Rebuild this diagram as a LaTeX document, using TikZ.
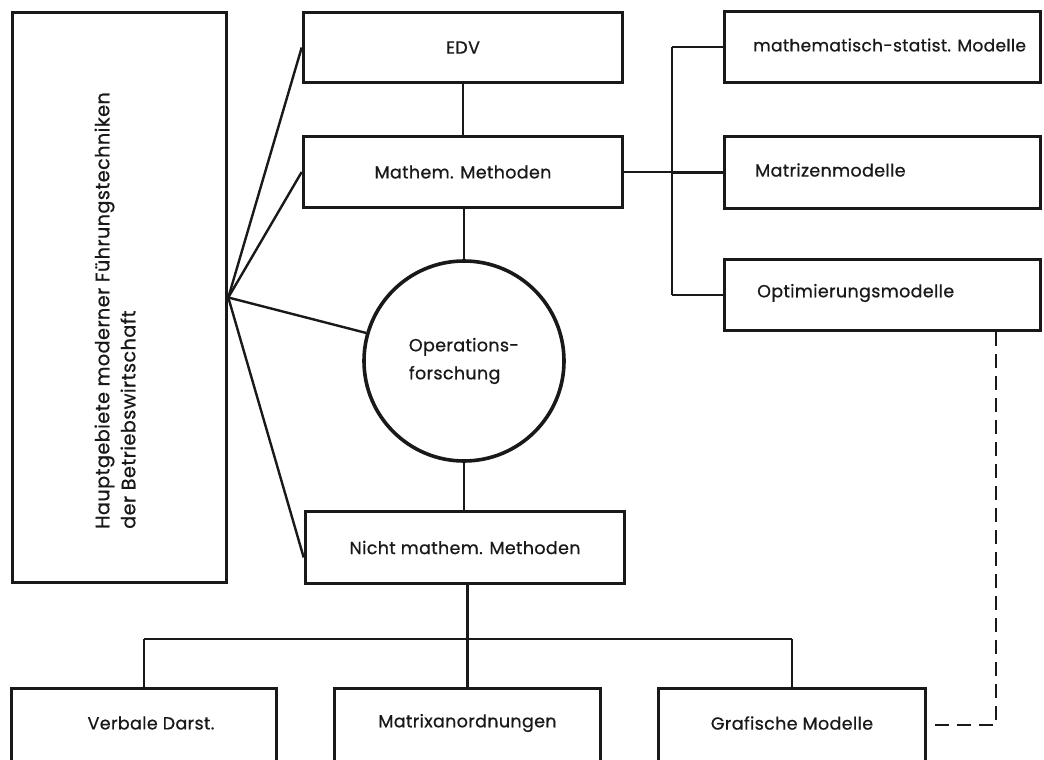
\documentclass[tikz,border=0pt]{standalone}
\usepackage{fontspec}
\setmainfont{Poppins}[FakeBold=0.7, LetterSpace=2]
\begin{document}
\begin{tikzpicture}[x=1pt,y=-1pt,
  box/.style={draw=black!90, line width=3.6pt, inner sep=0pt, rectangle},
  conn/.style={draw=black!90, line width=2.4pt},
  dconn/.style={draw=black!90, line width=2.5pt, dash pattern=on 14pt off 8pt},
  lbl/.style={font=\fontsize{17.5}{27}\selectfont, inner sep=0pt, text=black!90}
]
\useasboundingbox (0,0) rectangle (1044,760);
\clip (0,0) rectangle (1044,760);
\fill[white] (0,0) rectangle (1044,760);

% left main box
\node[box, minimum width=214pt, minimum height=570pt] (L) at (119.5,297.5) {};
\node[lbl, font=\fontsize{19.3}{26}\selectfont, rotate=90, align=left, anchor=west] (Lt) at (115,529)
  {Hauptgebiete moderner Führungstechniken\\der Betriebswirtschaft};

% centre column
\node[box, minimum width=319pt, minimum height=70pt, lbl] (edv) at (463,47.5) {EDV};
\node[box, minimum width=319pt, minimum height=71pt, lbl] (mm) at (463,172) {Mathem. Methoden};
\node[draw=black!90, line width=3.6pt, circle, minimum size=200pt, inner sep=0pt, lbl, align=left] (or) at (464,361)
  {Operations-\\[1pt]forschung};
\node[box, minimum width=319pt, minimum height=72pt, lbl] (nm) at (465,547.5) {Nicht mathem. Methoden};

% right column
\node[box, minimum width=316pt, minimum height=71pt] (r1) at (882.5,47) {};
\node[box, minimum width=316pt, minimum height=72pt] (r2) at (882.5,172.5) {};
\node[box, minimum width=316pt, minimum height=71pt] (r3) at (882.5,295) {};
\node[lbl, font=\fontsize{17}{27}\selectfont, anchor=west] (r1t) at (753,45) {mathematisch-statist. Modelle};
\node[lbl, anchor=west] (r2t) at (755,170) {Matrizenmodelle};
\node[lbl, anchor=west] (r3t) at (757,293) {Optimierungsmodelle};

% bottom row
\node[box, minimum width=265pt, minimum height=120pt] (b1) at (144,748.5) {};
\node[box, minimum width=266pt, minimum height=120pt] (b2) at (467.5,748.5) {};
\node[box, minimum width=267pt, minimum height=120pt] (b3) at (792,748.5) {};
\node[lbl] (b1t) at (151,723) {Verbale Darst.};
\node[lbl] (b2t) at (467.5,723) {Matrixanordnungen};
\node[lbl] (b3t) at (792,723) {Grafische Modelle};

% fan from the left box
\draw[conn] (L.east) -- (edv.west);
\draw[conn] (L.east) -- (mm.west);
\draw[conn] (L.east) -- (or.164);
\draw[conn] (L.east) -- ([yshift=-10pt]nm.west);

% vertical chain
\draw[conn] (edv.south) -- (mm.north);
\draw[conn] (mm.south -| or.north) -- (or.north);
\draw[conn] (or.south) -- (or.south |- nm.north);

% right bracket
\coordinate (rb) at (672,172);
\draw[conn] (mm.east) -- (rb);
\draw[conn] (rb |- r1.west) -- (rb |- r3.west);
\draw[conn] (rb |- r1.west) -- (r1.west);
\draw[conn] (rb |- r2.west) -- (r2.west);
\draw[conn] (rb |- r3.west) -- (r3.west);

% bottom bus
\coordinate (bus) at (467,639);
\draw[conn] (nm.south -| b2.north) -- (b2.north);
\draw[conn] (bus -| b1.north) -- (bus -| b3.north);
\draw[conn] (bus -| b1.north) -- (b1.north);
\draw[conn] (bus -| b3.north) -- (b3.north);

% dashed link
\coordinate (dc) at (996,725);
\draw[dconn] (r3.south -| dc) -- (dc) -- (dc -| b3.east);
\end{tikzpicture}
\end{document}
